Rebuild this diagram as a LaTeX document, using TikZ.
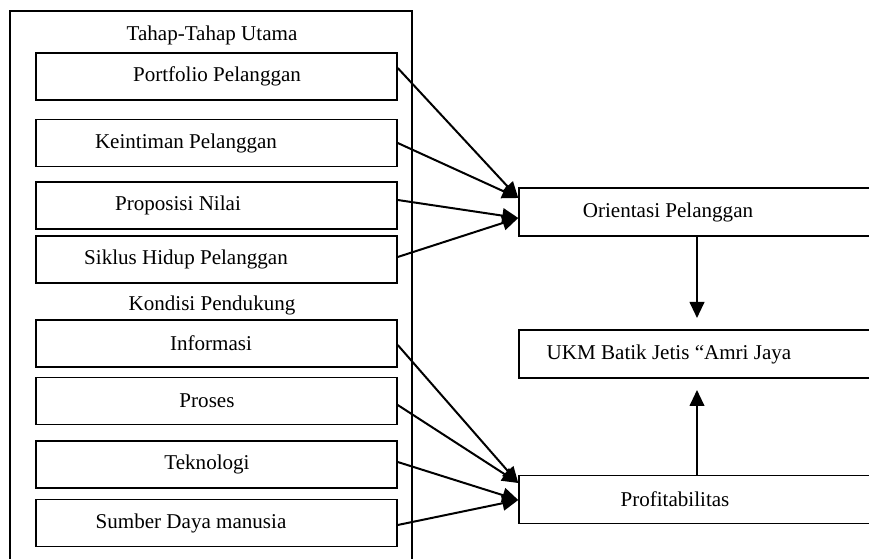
\documentclass[tikz,border=0pt]{standalone}
\usepackage{fontspec}
\setmainfont{Liberation Serif}
\usetikzlibrary{arrows.meta,calc}

\begin{document}
\begin{tikzpicture}[x=0.75pt, y=-0.75pt,
    every node/.style={font=\fontsize{15.8}{19}\selectfont},
    box/.style={draw, line width=1.1pt, minimum width=270.75pt, minimum height=35.25pt, inner sep=0pt},
    rbox/.style={draw, line width=1.1pt, minimum width=267pt, minimum height=36pt, inner sep=0pt},
    arr/.style={line width=1.5pt, -{Triangle[length=12pt,width=11pt]}}]
        \clip (0,0) rectangle (869,559);
        % frame round the left column
        \draw [line width=1.1pt] (10,580) -- (10,11) -- (412,11) -- (412,580);
        \node (tahap) at (212,35) {Tahap-Tahap Utama};
        \node (kondisi) at (212,305) {Kondisi Pendukung};

        \node (b1) at (216.5,76.5) [box] {};
        \node (b2) at (216.5,143) [box] {};
        \node (b3) at (216.5,205.5) [box] {};
        \node (b4) at (216.5,259.5) [box] {};
        \node (b5) at (216.5,343.5) [box] {};
        \node (b6) at (216.5,401) [box] {};
        \node (b7) at (216.5,464.5) [box] {};
        \node (b8) at (216.5,523) [box] {};
        \node (t1) at (217,76.5) {Portfolio Pelanggan};
        \node (t2) at (186,143) {Keintiman Pelanggan};
        \node (t3) at (178,205.5) {Proposisi Nilai};
        \node (t4) at (186,259.5) {Siklus Hidup Pelanggan};
        \node (t5) at (211,343.5) {Informasi};
        \node (t6) at (207,401) {Proses};
        \node (t7) at (207,464.5) {Teknologi};
        \node (t8) at (191,523) {Sumber Daya manusia};

        \node (ori) at (697,212) [rbox] {};
        \node (ukm) at (697,354) [rbox] {};
        \node (pro) at (697,499.5) [rbox] {};
        \node (tori) at (668,212) {Orientasi Pelanggan};
        \node (tukm) at (669,354) {UKM Batik Jetis “Amri Jaya};
        \node (tpro) at (675,499.5) {Profitabilitas};

        \coordinate (down) at (697,318);
        \coordinate (up) at (697,390);

        \draw [arr] ($(b1.east)+(0,-8.5)$) -- ($(ori.west)+(0,-14)$);
        \draw [arr] (b2.east) -- ($(ori.west)+(0,-14)$);
        \draw [arr] ($(b3.east)+(0,-5.5)$) -- ($(ori.west)+(0,6)$);
        \draw [arr] ($(b4.east)+(0,-2.5)$) -- ($(ori.west)+(0,6)$);
        \draw [arr] ($(b5.east)+(0,1.5)$) -- ($(pro.west)+(0,-16.5)$);
        \draw [arr] ($(b6.east)+(0,4)$) -- ($(pro.west)+(0,-16.5)$);
        \draw [arr] ($(b7.east)+(0,-2.5)$) -- ($(pro.west)+(0,0.5)$);
        \draw [arr] ($(b8.east)+(0,2)$) -- ($(pro.west)+(0,0.5)$);
        \draw [arr] (ori.south) -- (down);
        \draw [arr] (pro.north) -- (up);
    \end{tikzpicture}
\end{document}
